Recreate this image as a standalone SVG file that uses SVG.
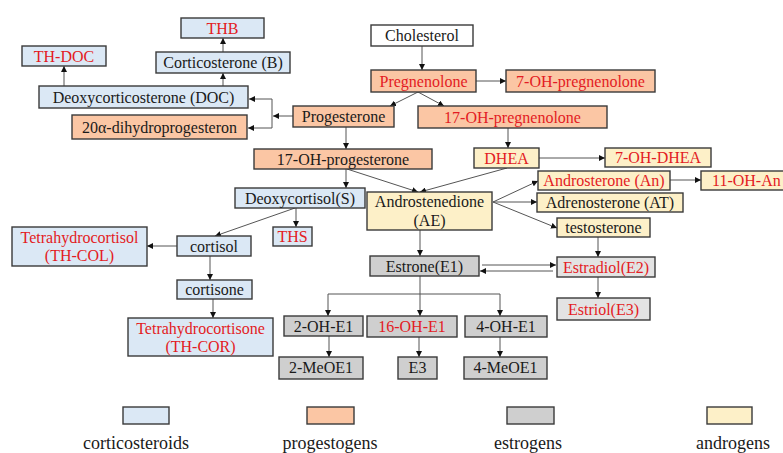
<svg xmlns="http://www.w3.org/2000/svg" width="783" height="453" viewBox="0 0 783 453">
<style>
.b rect{stroke:#3a3a3a;stroke-width:1.4}
.cs rect{fill:#dbe8f5}
.pg rect{fill:#fbc6a4}
.es rect{fill:#cfcfcf}
.el rect{fill:#e3e3e3}
.an rect{fill:#fdf0c8}
.wh rect{fill:#ffffff}
text{font-family:'Liberation Serif','DejaVu Serif',serif;font-size:16px;fill:#1a1a1a;text-anchor:middle}
.r text{fill:#e31b23}
.lg text{font-size:18px}
#conn path{fill:none;stroke:#555;stroke-width:1}
</style>
<defs>
<marker id="a" viewBox="0 0 10 10" refX="10" refY="5" markerWidth="6" markerHeight="6" orient="auto" markerUnits="userSpaceOnUse"><path d="M0,0 L10,5 L0,10 z" fill="#111"/></marker>
</defs>
<rect width="783" height="453" fill="#ffffff"/>
<g id="conn">
<path d="M422,46 V70" marker-end="url(#a)"/>
<path d="M476,81 H506" marker-end="url(#a)"/>
<path d="M418,92 L390,106" marker-end="url(#a)"/>
<path d="M418,92 L444,106" marker-end="url(#a)"/>
<path d="M293,116 H273" marker-end="url(#a)"/>
<path d="M272,99 V128"/>
<path d="M272,99 H249" marker-end="url(#a)"/>
<path d="M272,128 H248" marker-end="url(#a)"/>
<path d="M346,127 V149" marker-end="url(#a)"/>
<path d="M64,86 V66" marker-end="url(#a)"/>
<path d="M223,86 V73" marker-end="url(#a)"/>
<path d="M223,52 V38" marker-end="url(#a)"/>
<path d="M508,128 V148" marker-end="url(#a)"/>
<path d="M539,158 H605" marker-end="url(#a)"/>
<path d="M347,169 L418,192" marker-end="url(#a)"/>
<path d="M507,168 L420,192" marker-end="url(#a)"/>
<path d="M346,169 V188" marker-end="url(#a)"/>
<path d="M493,202 L538,181" marker-end="url(#a)"/>
<path d="M493,202 H537" marker-end="url(#a)"/>
<path d="M493,202 L557,228" marker-end="url(#a)"/>
<path d="M670,180 H701" marker-end="url(#a)"/>
<path d="M296,208 V227" marker-end="url(#a)"/>
<path d="M295,208 L215,236" marker-end="url(#a)"/>
<path d="M177,246 H147" marker-end="url(#a)"/>
<path d="M210,256 V280" marker-end="url(#a)"/>
<path d="M213,299 V318" marker-end="url(#a)"/>
<path d="M420,230 V256" marker-end="url(#a)"/>
<path d="M598,237 V257" marker-end="url(#a)"/>
<path d="M482,265 H556" marker-end="url(#a)"/>
<path d="M553,271 H480" marker-end="url(#a)"/>
<path d="M598,277 V298" marker-end="url(#a)"/>
<path d="M420,276 V316" marker-end="url(#a)"/>
<path d="M328,294 H500"/>
<path d="M328,294 V316" marker-end="url(#a)"/>
<path d="M500,294 V316" marker-end="url(#a)"/>
<path d="M329,336 V357" marker-end="url(#a)"/>
<path d="M419,337 V357" marker-end="url(#a)"/>
<path d="M500,337 V357" marker-end="url(#a)"/>
</g>
<g id="cholesterol" class="b wh"><rect x="371" y="25" width="102" height="21"/><text x="422" y="41">Cholesterol</text></g>
<g id="pregnenolone" class="b pg r"><rect x="371" y="70" width="105" height="22"/><text x="423.5" y="86.5">Pregnenolone</text></g>
<g id="oh7-pregnenolone" class="b pg r"><rect x="506" y="70" width="149" height="22"/><text x="580.5" y="86.5">7-OH-pregnenolone</text></g>
<g id="progesterone" class="b pg"><rect x="293" y="106" width="101" height="21"/><text x="343.5" y="122">Progesterone</text></g>
<g id="oh17-pregnenolone" class="b pg r"><rect x="418" y="106" width="189" height="22"/><text x="512.5" y="122.5">17-OH-pregnenolone</text></g>
<g id="oh17-progesterone" class="b pg"><rect x="254" y="149" width="178" height="20"/><text x="343" y="164.5">17-OH-progesterone</text></g>
<g id="dhea" class="b an r"><rect x="474" y="148" width="65" height="20"/><text x="506.5" y="163.5">DHEA</text></g>
<g id="oh7-dhea" class="b an r"><rect x="605" y="148" width="106" height="19"/><text x="658" y="163">7-OH-DHEA</text></g>
<g id="thb" class="b cs r"><rect x="181" y="18" width="83" height="20"/><text x="222.5" y="33.5">THB</text></g>
<g id="th-doc" class="b cs r"><rect x="22" y="46" width="84" height="20"/><text x="64" y="61.5">TH-DOC</text></g>
<g id="corticosterone" class="b cs"><rect x="156" y="52" width="134" height="21"/><text x="223" y="68">Corticosterone (B)</text></g>
<g id="doc" class="b cs"><rect x="39" y="86" width="209" height="22"/><text x="143.5" y="102.5">Deoxycorticosterone (DOC)</text></g>
<g id="dihydroprogesteron" class="b pg"><rect x="72" y="115" width="175" height="24"/><text x="159.5" y="133">20α-dihydroprogesteron</text></g>
<g id="deoxycortisol" class="b cs"><rect x="235" y="188" width="130" height="20"/><text x="300" y="203.5">Deoxycortisol(S)</text></g>
<g id="ths" class="b cs r"><rect x="273" y="227" width="39" height="19"/><text x="292.5" y="242">THS</text></g>
<g id="cortisol" class="b cs"><rect x="177" y="236" width="74" height="20"/><text x="214" y="251.5">cortisol</text></g>
<g id="th-col" class="b cs r"><rect x="12" y="227" width="135" height="39"/><text x="79.5" y="242.5">Tetrahydrocortisol</text><text x="79.5" y="261">(TH-COL)</text></g>
<g id="cortisone" class="b cs"><rect x="177" y="280" width="75" height="19"/><text x="214.5" y="295">cortisone</text></g>
<g id="th-cor" class="b cs r"><rect x="128" y="318" width="145" height="38"/><text x="200.5" y="334">Tetrahydrocortisone</text><text x="200.5" y="352">(TH-COR)</text></g>
<g id="androstenedione" class="b an"><rect x="367" y="192" width="125" height="38"/><text x="429.5" y="207">Androstenedione</text><text x="429.5" y="226">(AE)</text></g>
<g id="androsterone" class="b an r"><rect x="538" y="171" width="132" height="19"/><text x="604" y="186">Androsterone (An)</text></g>
<g id="oh11-an" class="b an r"><rect x="701" y="171" width="90" height="19"/><text x="712" y="186" style="text-anchor:start">11-OH-An</text></g>
<g id="adrenosterone" class="b an"><rect x="537" y="193" width="146" height="19"/><text x="610" y="208">Adrenosterone (AT)</text></g>
<g id="testosterone" class="b an"><rect x="557" y="218" width="93" height="19"/><text x="603.5" y="233">testosterone</text></g>
<g id="estrone" class="b es"><rect x="370" y="256" width="109" height="20"/><text x="424.5" y="271.5">Estrone(E1)</text></g>
<g id="estradiol" class="b el r"><rect x="557" y="257" width="98" height="20"/><text x="606" y="272.5">Estradiol(E2)</text></g>
<g id="estriol" class="b el r"><rect x="557" y="298" width="93" height="22"/><text x="603.5" y="314.5">Estriol(E3)</text></g>
<g id="oh2-e1" class="b es"><rect x="284" y="316" width="79" height="20"/><text x="323.5" y="331.5">2-OH-E1</text></g>
<g id="oh16-e1" class="b es r"><rect x="367" y="316" width="90" height="21"/><text x="412" y="332">16-OH-E1</text></g>
<g id="oh4-e1" class="b es"><rect x="465" y="316" width="82" height="21"/><text x="506" y="332">4-OH-E1</text></g>
<g id="meoe1-2" class="b es"><rect x="279" y="357" width="84" height="22"/><text x="321" y="373">2-MeOE1</text></g>
<g id="e3" class="b es"><rect x="398" y="357" width="39" height="22"/><text x="417.5" y="373">E3</text></g>
<g id="meoe1-4" class="b es"><rect x="464" y="357" width="83" height="22"/><text x="505.5" y="373">4-MeOE1</text></g>
<g id="legend" class="lg">
<g class="b cs"><rect x="123" y="407" width="46" height="17"/></g>
<g class="b pg"><rect x="307" y="407" width="47" height="17"/></g>
<g class="b es"><rect x="507" y="407" width="47" height="17"/></g>
<g class="b an"><rect x="707" y="407" width="45" height="17"/></g>
<text x="136" y="449">corticosteroids</text>
<text x="330" y="449">progestogens</text>
<text x="528" y="449">estrogens</text>
<text x="733" y="449">androgens</text>
</g>
</svg>
